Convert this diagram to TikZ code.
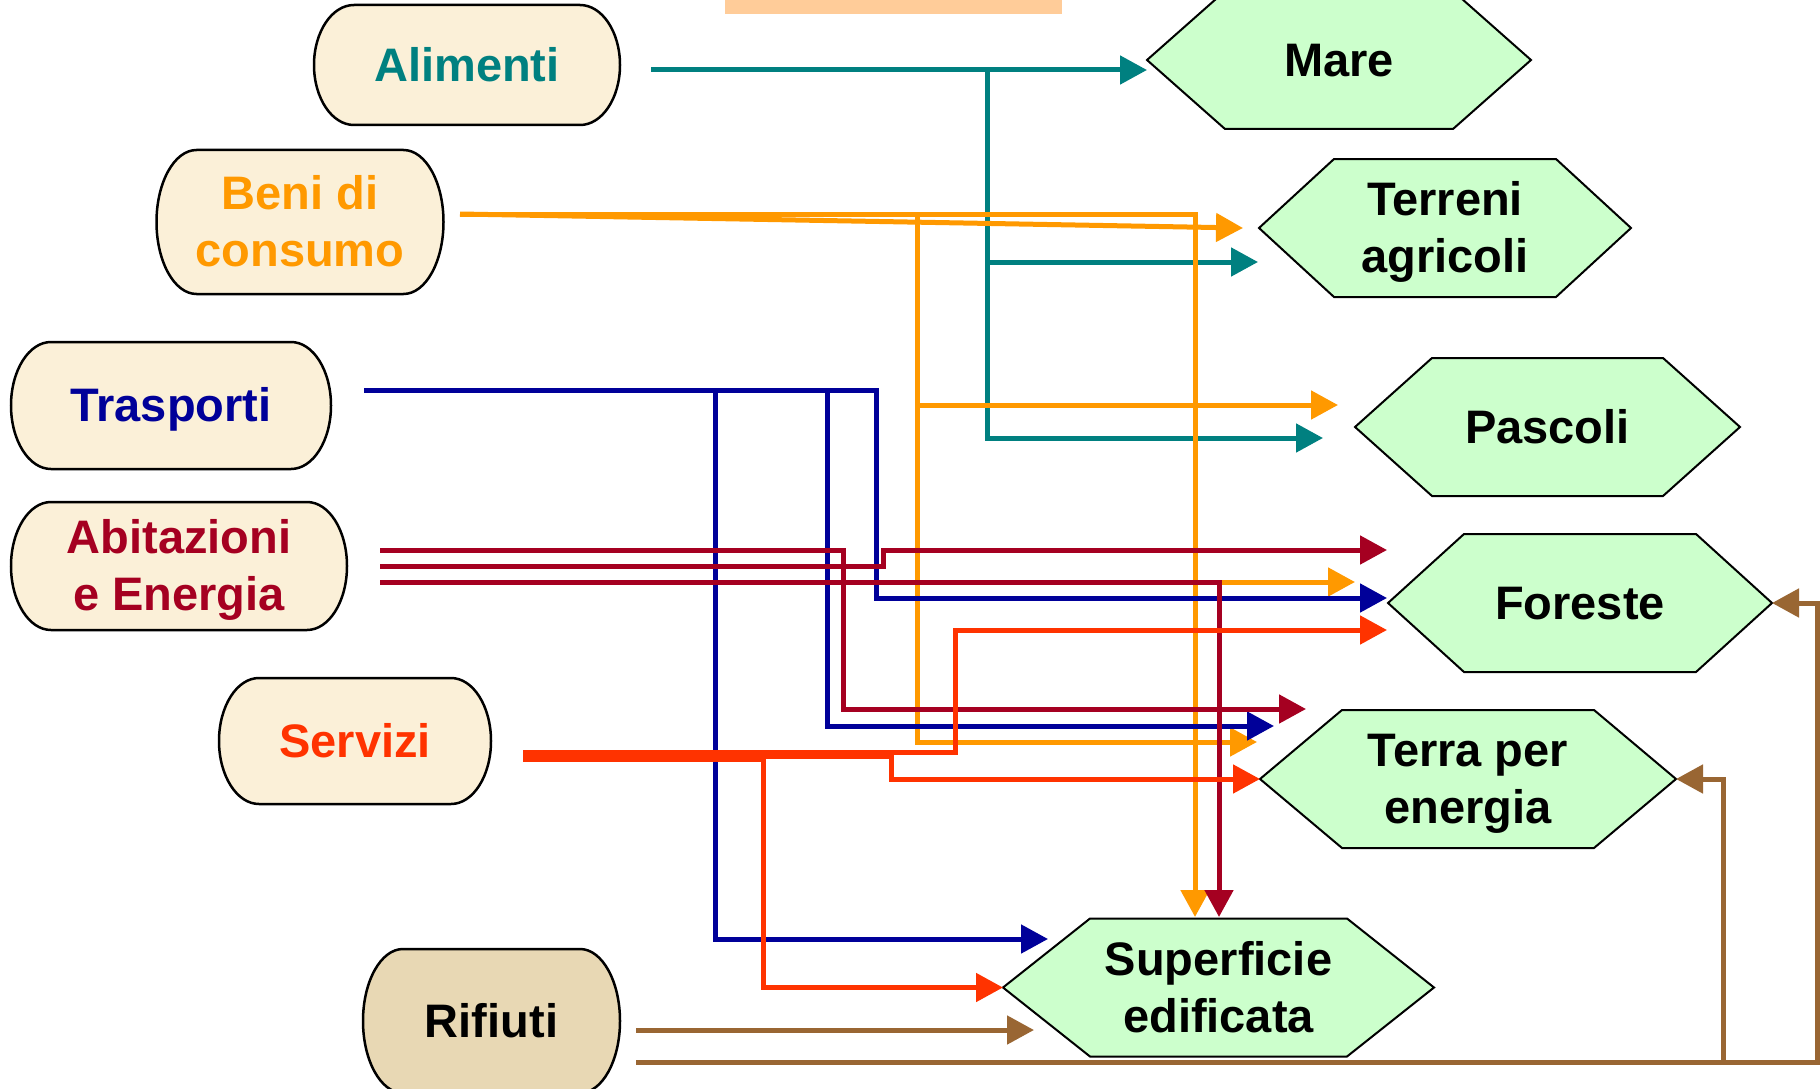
\documentclass[tikz,border=0pt]{standalone}
\usepackage{fontspec}
\setmainfont{Liberation Sans}
\usetikzlibrary{arrows.meta,calc}
\definecolor{cTeal}{HTML}{008080}
\definecolor{cOrange}{HTML}{FF9900}
\definecolor{cBlue}{HTML}{000099}
\definecolor{cCrimson}{HTML}{A50021}
\definecolor{cServ}{HTML}{FF3300}
\definecolor{cBrown}{HTML}{996633}
\definecolor{cHex}{HTML}{CCFFCC}
\definecolor{cSrc}{HTML}{FBF0D8}
\definecolor{cRif}{HTML}{E8D8B4}
\definecolor{cPeach}{HTML}{FFCC99}
\newcommand\stt{\rule[-0.212em]{0pt}{1.117em}}
\tikzset{
  bigtext/.style={font=\fontsize{47}{57}\selectfont\bfseries, align=center, inner sep=0pt, outer sep=0pt},
  srcline/.style={draw=black, line width=2.5pt},
  hexshape/.style={draw=black, line width=2pt, fill=cHex},
  conn/.style={line width=5pt},
  arr/.style={-{Triangle[length=27pt,width=28pt]}}
}
% name, cx, cy, w, h, fill, textcolor, text
\newcommand\srcbox[8]{%
  \pgfmathsetmacro\sbXl{#2-#4/2}\pgfmathsetmacro\sbXr{#2+#4/2}%
  \pgfmathsetmacro\sbYt{#3-#5/2}\pgfmathsetmacro\sbYb{#3+#5/2}%
  \pgfmathsetmacro\sbXlr{\sbXl+40}\pgfmathsetmacro\sbXrr{\sbXr-40}%
  \pgfmathsetmacro\sbKx{0.5523*40}\pgfmathsetmacro\sbKy{0.5523*#5/2}%
  \draw[srcline, fill=#6] (\sbXlr,\sbYt) -- (\sbXrr,\sbYt)
     .. controls ({\sbXrr+\sbKx},\sbYt) and (\sbXr,{#3-\sbKy}) .. (\sbXr,#3)
     .. controls (\sbXr,{#3+\sbKy}) and ({\sbXrr+\sbKx},\sbYb) .. (\sbXrr,\sbYb)
     -- (\sbXlr,\sbYb)
     .. controls ({\sbXlr-\sbKx},\sbYb) and (\sbXl,{#3+\sbKy}) .. (\sbXl,#3)
     .. controls (\sbXl,{#3-\sbKy}) and ({\sbXlr-\sbKx},\sbYt) .. (\sbXlr,\sbYt) -- cycle;
  \node[bigtext, text=#7, minimum width=#4, minimum height=#5] (#1) at (#2,#3) {#8};
}
% name, cx, cy, halfwidth, inset, text
\newcommand\hexbox[6]{%
  \pgfmathsetmacro\hbW{2*#4}%
  \draw[hexshape] ({#2-#4},#3) -- ({#2-#4+#5},{#3-69}) -- ({#2+#4-#5},{#3-69}) -- ({#2+#4},#3)
     -- ({#2+#4-#5},{#3+69}) -- ({#2-#4+#5},{#3+69}) -- cycle;
  \node[bigtext, text=black, minimum width=\hbW, minimum height=138] (#1) at (#2,#3) {#6};
}
\begin{document}
\begin{tikzpicture}[x=1pt,y=-1pt]
\useasboundingbox (0,0) rectangle (1820,1089);
\clip (0,0) rectangle (1820,1089);
\fill[white] (0,0) rectangle (1820,1089);
\fill[cPeach] (725,0) rectangle (1062,14);

% source nodes
\srcbox{alim}{467}{65}{306}{120}{cSrc}{cTeal}{\stt Alimenti}
\srcbox{beni}{300}{222}{287}{144}{cSrc}{cOrange}{\stt Beni di\\\stt consumo}
\srcbox{trasp}{171}{405.5}{320}{127}{cSrc}{cBlue}{\stt Trasporti}
\srcbox{abit}{179}{566}{336}{128}{cSrc}{cCrimson}{\stt Abitazioni\\\stt e Energia}
\srcbox{serv}{355}{741}{272}{126}{cSrc}{cServ}{\stt Servizi}
\srcbox{rif}{491.5}{1021}{257}{144}{cRif}{black}{\stt Rifiuti}

% target nodes
\hexbox{mare}{1339}{60}{192}{78}{\stt Mare}
\hexbox{terreni}{1445}{228}{186}{75}{\stt Terreni\\\stt agricoli}
\hexbox{pascoli}{1547.5}{427}{192.5}{77}{\stt Pascoli}
\hexbox{foreste}{1580}{603}{192}{76}{\stt Foreste}
\hexbox{terra}{1468}{779}{208}{82}{\stt Terra per\\\stt energia}
\hexbox{sup}{1218.5}{987.5}{215.5}{87}{\stt Superficie\\\stt edificata}

% start points
\coordinate (aS) at (651,70);
\coordinate (bS) at (460,214);
\coordinate (tS) at (364,390);
\coordinate (hS1) at (380,550);
\coordinate (hS2) at (380,566);
\coordinate (hS3) at (380,582);
\coordinate (sS1) at (523,752);
\coordinate (sS2) at (523,756);
\coordinate (sS3) at (523,759);
\coordinate (rS1) at (636,1030);
\coordinate (rS2) at (636,1062);

% Alimenti (teal)
\draw[conn,cTeal,arr] (aS) -- ($(mare.west)+(0,10)$);
\draw[conn,cTeal,arr] (987,70) -- (987,438) -- ($(pascoli.west)+(-32,11)$);
\draw[conn,cTeal,arr] (987,262) -- ($(terreni.west)+(-1,34)$);

% Beni di consumo (orange)
\draw[conn,cOrange,arr] (bS) -- ($(terreni.west)+(-16,0)$);
\draw[conn,cOrange,arr] (bS) -- (1195,214) -- ($(sup.north)+(-23.5,-1.5)$);
\draw[conn,cOrange,arr] (917,214) -- (917,742) -- ($(terra.west)+(-3,-37)$);
\draw[conn,cOrange,arr] (917,405) -- ($(pascoli.west)+(-17,-22)$);
\draw[conn,cOrange,arr] (1195,582) -- ($(foreste.west)+(-33,-21)$);

% Trasporti (blue)
\draw[conn,cBlue,arr] (tS) -- (876,390) -- (876,598) -- ($(foreste.west)+(-1,-5)$);
\draw[conn,cBlue,arr] (715,390) -- (715,939) -- ($(sup.west)+(45,-48.5)$);
\draw[conn,cBlue,arr] (827,390) -- (827,726) -- ($(terra.west)+(14,-53)$);

% Abitazioni e Energia (crimson)
\draw[conn,cCrimson,arr] (hS1) -- (843,550) -- (843,709) -- ($(terra.west)+(46,-70)$);
\draw[conn,cCrimson,arr] (hS2) -- (883,566) -- (883,550) -- ($(foreste.west)+(-1,-53)$);
\draw[conn,cCrimson,arr] (hS3) -- (1219,582) -- ($(sup.north)+(0.5,-1.5)$);

% Servizi (red-orange)
\draw[conn,cServ,arr] (sS1) -- (955,752) -- (955,630) -- ($(foreste.west)+(-1,27)$);
\draw[conn,cServ,arr] (sS2) -- (891,756) -- (891,779) -- (terra.west);
\draw[conn,cServ,arr] (sS3) -- (763,759) -- (763,987.5) -- (sup.west);

% Rifiuti (brown)
\draw[conn,cBrown,arr] (rS1) -- ($(sup.west)+(31,42.5)$);
\draw[conn,cBrown,arr] (rS2) -- (1817,1062) -- (1817,603) -- (foreste.east);
\draw[conn,cBrown,arr] (1723,1062) -- (1723,779) -- (terra.east);
\end{tikzpicture}
\end{document}
